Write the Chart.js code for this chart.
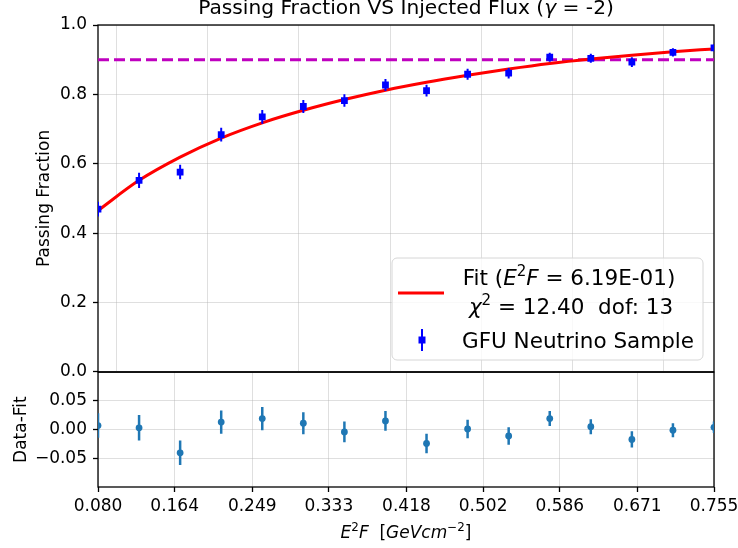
<!DOCTYPE html>
<html>
<head>
<meta charset="utf-8">
<script src="https://cdn.jsdelivr.net/npm/chart.js@4.4.0/dist/chart.umd.min.js"></script>
<style>
  body { margin: 0; background: #fff; }
  #wrap { position: relative; width: 738px; height: 548px; overflow: hidden; background: #fff; }
  #top { position: absolute; left: 0; top: 0; }
  #bottom { position: absolute; left: 0; top: 356px; }
</style>
</head>
<body>
<div id="wrap">
  <canvas id="bottom" width="780" height="192"></canvas>
  <canvas id="top" width="738" height="388"></canvas>
</div>
<script>
//////////////
//
//   DATA
//
//////////////

    var fluxValues   = [0.080, 0.125, 0.170, 0.215, 0.260, 0.305, 0.350, 0.395, 0.440, 0.485, 0.530, 0.575, 0.620, 0.665, 0.710, 0.755];
    var passFraction = [0.469, 0.552, 0.576, 0.684, 0.735, 0.765, 0.782, 0.827, 0.811, 0.858, 0.861, 0.907, 0.904, 0.893, 0.921, 0.934];
    var passError    = [0.021, 0.022, 0.021, 0.020, 0.020, 0.019, 0.018, 0.017, 0.017, 0.016, 0.015, 0.013, 0.013, 0.014, 0.012, 0.010];
    var fitCurve     = [0.465, 0.552, 0.619, 0.674, 0.718, 0.754, 0.785, 0.812, 0.835, 0.855, 0.873, 0.889, 0.902, 0.913, 0.923, 0.931];
    var residuals    = [0.007, 0.003, -0.040, 0.013, 0.019, 0.011, -0.004, 0.015, -0.024, 0.001, -0.011, 0.019, 0.005, -0.017, -0.001, 0.004];
    var threshold = 0.9;

    var xMin = 0.080;
    var xMax = 0.755;
    var upperYTicks = [0.0, 0.2, 0.4, 0.6, 0.8, 1.0];
    var upperXGrid  = [0.1, 0.2, 0.3, 0.4, 0.5, 0.6, 0.7];
    var lowerXTicks = [0.080, 0.164, 0.249, 0.333, 0.418, 0.502, 0.586, 0.671, 0.755];
    var lowerYTicks = [-0.05, 0.00, 0.05];

    var gridColor = 'rgba(176,176,176,0.4)';
    var FONT = '"DejaVu Sans"';
    Chart.defaults.font.family = FONT;
    Chart.defaults.color = '#000';

    function points(xs, ys) {
        return xs.map(function(x, i) { return { x: x, y: ys[i] }; });
    }

    // text with italic / superscript pieces (matplotlib mathtext look-alike)
    function richFont(style, size) {
        var italic = (style === 'i' || style === 'isup');
        var sup = (style === 'sup' || style === 'isup');
        return (italic ? 'italic ' : '') + (sup ? size * 0.7 : size) + 'px ' + FONT;
    }
    function drawRich(ctx, parts, x, y, size, align) {
        var w = 0;
        parts.forEach(function(p) { ctx.font = richFont(p[1], size); w += ctx.measureText(p[0]).width; });
        var cx = align === 'center' ? x - w / 2 : x;
        ctx.textAlign = 'left';
        ctx.textBaseline = 'alphabetic';
        parts.forEach(function(p) {
            ctx.font = richFont(p[1], size);
            var dy = (p[1] === 'sup' || p[1] === 'isup') ? -size * 0.4 : 0;
            ctx.fillText(p[0], cx, y + dy);
            cx += ctx.measureText(p[0]).width;
        });
    }

    function frameAndBars(values, errors, color, width, dsIndex) {
        return {
            id: 'frameBars' + dsIndex,
            beforeDatasetsDraw: function(chart) {
                var a = chart.chartArea, ctx = chart.ctx;
                ctx.save();
                ctx.strokeStyle = '#000';
                ctx.lineWidth = 1.3;
                ctx.strokeRect(a.left, a.top, a.right - a.left, a.bottom - a.top);
                ctx.restore();
            },
            beforeDatasetDraw: function(chart, args) {
                if (args.index !== dsIndex) return;
                var a = chart.chartArea, ctx = chart.ctx;
                var xs = chart.scales.x, ys = chart.scales.y;
                ctx.save();
                ctx.beginPath();
                ctx.rect(a.left, a.top, a.right - a.left, a.bottom - a.top);
                ctx.clip();
                ctx.strokeStyle = color;
                ctx.lineWidth = width;
                ctx.beginPath();
                for (var i = 0; i < values.length; i++) {
                    var px = xs.getPixelForValue(fluxValues[i]);
                    ctx.moveTo(px, ys.getPixelForValue(values[i] - errors[i]));
                    ctx.lineTo(px, ys.getPixelForValue(values[i] + errors[i]));
                }
                ctx.stroke();
                ctx.restore();
            }
        };
    }

    var titleAndLegend = {
        id: 'titleAndLegend',
        afterDraw: function(chart) {
            var ctx = chart.ctx, a = chart.chartArea;
            ctx.save();
            ctx.fillStyle = '#000';
            drawRich(ctx, [['Passing Fraction VS Injected Flux (', ''], ['\u03b3', 'i'], [' = -2)', '']],
                     (a.left + a.right) / 2, 14, 20.2, 'center');

            // legend box
            var bx = 392, by = 258, bw = 311, bh = 102, r = 5;
            ctx.beginPath();
            ctx.moveTo(bx + r, by);
            ctx.arcTo(bx + bw, by, bx + bw, by + bh, r);
            ctx.arcTo(bx + bw, by + bh, bx, by + bh, r);
            ctx.arcTo(bx, by + bh, bx, by, r);
            ctx.arcTo(bx, by, bx + bw, by, r);
            ctx.closePath();
            ctx.fillStyle = 'rgba(255,255,255,0.8)';
            ctx.fill();
            ctx.strokeStyle = '#d6d6d6';
            ctx.lineWidth = 1;
            ctx.stroke();

            // fit entry
            ctx.strokeStyle = '#ff0000';
            ctx.lineWidth = 3;
            ctx.beginPath();
            ctx.moveTo(398, 293);
            ctx.lineTo(444, 293);
            ctx.stroke();
            ctx.fillStyle = '#000';
            drawRich(ctx, [['Fit (', ''], ['E', 'i'], ['2', 'sup'], ['F', 'i'], [' = 6.19E-01)', '']], 569, 285, 21.5, 'center');
            drawRich(ctx, [['\u03c7', 'i'], ['2', 'sup'], [' = 12.40  dof: 13', '']], 571, 314, 21.5, 'center');

            // data entry
            ctx.strokeStyle = '#0000ff';
            ctx.lineWidth = 2;
            ctx.beginPath();
            ctx.moveTo(422, 329);
            ctx.lineTo(422, 351);
            ctx.stroke();
            ctx.fillStyle = '#0000ff';
            ctx.fillRect(418.5, 336.5, 7, 7);
            ctx.fillStyle = '#000';
            drawRich(ctx, [['GFU Neutrino Sample', '']], 462, 348, 21.5, 'left');
            ctx.restore();
        }
    };

    var xAxisTitle = {
        id: 'xAxisTitle',
        afterDraw: function(chart) {
            var ctx = chart.ctx, a = chart.chartArea;
            ctx.save();
            ctx.fillStyle = '#000';
            drawRich(ctx, [['E', 'i'], ['2', 'sup'], ['F', 'i'], ['  [', ''], ['GeVcm', 'i'], ['\u22122', 'sup'], [']', '']],
                     (a.left + a.right) / 2, 182, 17, 'center');
            ctx.restore();
        }
    };

    window.onload = function() {
        // Upper panel: passing fraction + fit
        new Chart(document.getElementById('top').getContext('2d'), {
            type: 'line',
            data: {
                datasets: [{
                    label: 'GFU Neutrino Sample',
                    data: points(fluxValues, passFraction),
                    showLine: false,
                    pointStyle: 'rect',
                    pointRadius: 4.8,
                    pointBackgroundColor: '#0000ff',
                    pointBorderWidth: 0,
                    borderColor: '#0000ff',
                    clip: 0,
                    order: 0
                }, {
                    label: 'Fit',
                    data: points(fluxValues, fitCurve),
                    borderColor: '#ff0000',
                    borderWidth: 3,
                    pointRadius: 0,
                    cubicInterpolationMode: 'monotone',
                    order: 1
                }, {
                    label: 'threshold',
                    data: points([xMin, xMax], [threshold, threshold]),
                    borderColor: '#bf00bf',
                    borderWidth: 3,
                    borderDash: [11, 5],
                    pointRadius: 0,
                    order: 2
                }]
            },
            options: {
                responsive: false,
                animation: false,
                layout: { padding: { left: 0, right: 24, top: 25, bottom: 16 } },
                plugins: { legend: { display: false }, tooltip: { enabled: false } },
                scales: {
                    x: {
                        type: 'linear', min: xMin, max: xMax,
                        afterBuildTicks: function(s) { s.ticks = upperXGrid.map(function(v) { return { value: v }; }); },
                        ticks: { display: false },
                        grid: { color: gridColor, drawTicks: false },
                        border: { display: false },
                        afterFit: function(s) { s.height = 0; }
                    },
                    y: {
                        min: 0, max: 1,
                        afterBuildTicks: function(s) { s.ticks = upperYTicks.map(function(v) { return { value: v }; }); },
                        ticks: { callback: function(v) { return v.toFixed(1); }, padding: 6, font: { size: 17 } },
                        grid: { color: gridColor, tickColor: '#000', tickLength: 5, tickWidth: 1.3 },
                        border: { display: false },
                        title: { display: true, text: 'Passing Fraction', font: { size: 17 }, padding: { top: 34, bottom: 0 } },
                        afterFit: function(s) { s.width = 98; }
                    }
                }
            },
            plugins: [frameAndBars(passFraction, passError, '#0000ff', 2, 0), titleAndLegend]
        });

        // Lower panel: residuals (canvas is wider than the page so the right edge lines up)
        new Chart(document.getElementById('bottom').getContext('2d'), {
            type: 'line',
            data: {
                datasets: [{
                    label: 'Data-Fit',
                    data: points(fluxValues, residuals),
                    showLine: false,
                    pointStyle: 'circle',
                    pointRadius: 3.4,
                    pointBackgroundColor: '#1f77b4',
                    pointBorderWidth: 0,
                    borderColor: '#1f77b4',
                    clip: 0
                }]
            },
            options: {
                responsive: false,
                animation: false,
                layout: { padding: { left: 0, right: 66, top: 16, bottom: 0 } },
                plugins: { legend: { display: false }, tooltip: { enabled: false } },
                scales: {
                    x: {
                        type: 'linear', min: xMin, max: xMax,
                        afterBuildTicks: function(s) { s.ticks = lowerXTicks.map(function(v) { return { value: v }; }); },
                        ticks: { callback: function(v) { return v.toFixed(3); }, padding: 4, font: { size: 17 }, maxRotation: 0, autoSkip: false },
                        grid: { color: gridColor, tickColor: '#000', tickLength: 5, tickWidth: 1.3 },
                        border: { display: false },
                        afterFit: function(s) { s.height = 61; }
                    },
                    y: {
                        min: -0.099, max: 0.099,
                        afterBuildTicks: function(s) { s.ticks = lowerYTicks.map(function(v) { return { value: v }; }); },
                        ticks: {
                            callback: function(v) { return v < 0 ? '\u2212' + Math.abs(v).toFixed(2) : v.toFixed(2); },
                            padding: 6, font: { size: 17 }
                        },
                        grid: { color: gridColor, tickColor: '#000', tickLength: 5, tickWidth: 1.3 },
                        border: { display: false },
                        title: { display: true, text: 'Data-Fit', font: { size: 17 }, padding: { top: 11, bottom: 0 } },
                        afterFit: function(s) { s.width = 98; }
                    }
                }
            },
            plugins: [frameAndBars(residuals, passError, '#1f77b4', 2.5, 0), xAxisTitle]
        });
    };
</script>
</body>
</html>
